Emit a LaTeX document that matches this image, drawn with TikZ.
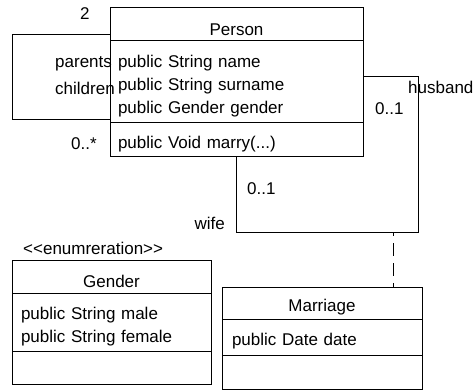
\documentclass[tikz,border=0pt]{standalone}
\usepackage{fontspec}
\setmainfont{Liberation Sans}
\usetikzlibrary{positioning}

\begin{document}
\begin{tikzpicture}[x=1pt,y=-1pt,
font=\fontsize{17}{23}\selectfont,
compartment/.style={rectangle,draw,line width=1pt,inner xsep=8pt,inner ysep=0pt,outer sep=0pt,
  align=left,execute at begin node={\rule{0pt}{21.5pt}}},
header/.style={compartment,align=center},
tag/.style={inner sep=0pt,anchor=base west},
assoc/.style={draw,line width=1pt},
dashline/.style={draw,line width=1pt,dash pattern=on 13pt off 7pt,dash phase=9pt}]
\useasboundingbox (0,0) rectangle (476,390);
\node[header,text width=237pt,minimum height=33pt,anchor=north west] (personhead) at (110,8) {Person};
\node[compartment,text width=237pt,minimum height=82pt,below=0pt of personhead] (personattr)
  {public String name\\public String surname\\public Gender gender};
\node[compartment,text width=237pt,minimum height=34pt,below=0pt of personattr] (personops)
  {public Void marry(...)};
\node[header,text width=181pt,inner xsep=9pt,minimum height=33pt,anchor=north west] (genderhead) at (12,260) {Gender};
\node[compartment,text width=181pt,inner xsep=9pt,minimum height=58pt,below=0pt of genderhead] (genderattr)
  {public String male\\public String female};
\node[compartment,text width=181pt,inner xsep=9pt,minimum height=33pt,below=0pt of genderattr] (genderops) {};
\node[header,text width=180pt,inner xsep=10pt,minimum height=32pt,anchor=north west] (marriagehead) at (222,287) {Marriage};
\node[compartment,text width=180pt,inner xsep=10pt,minimum height=36pt,below=0pt of marriagehead] (marriageattr)
  {public Date date};
\node[compartment,text width=180pt,inner xsep=10pt,minimum height=34pt,below=0pt of marriageattr] (marriageops) {};
\coordinate (loopend) at (12,120);
\coordinate (bend) at (418,232);
\coordinate (assocmid) at (393,232);
\draw[assoc] ([yshift=6pt]personhead.south west) -| (loopend) -- (loopend -| personattr.west);
\draw[assoc] ([yshift=5pt]personattr.east) -| (bend) -| (personops.south);
\draw[dashline] (assocmid) -- (assocmid |- marriagehead.north);
\node[tag] (two) at (80,20) {2};
\node[tag] (parents) at (55,68) {parents};
\node[tag] (children) at (55,95) {children};
\node[tag] (many) at (71,150) {0..*};
\node[tag] (husband) at (408,94) {husband};
\node[tag] (husbandmult) at (375,115) {0..1};
\node[tag] (wifemult) at (247,194) {0..1};
\node[tag,anchor=base east] (wife) at (225,229) {wife};
\node[tag] (stereotype) at (23,254) {<{}<enumreration>{}>};
\end{tikzpicture}
\end{document}
